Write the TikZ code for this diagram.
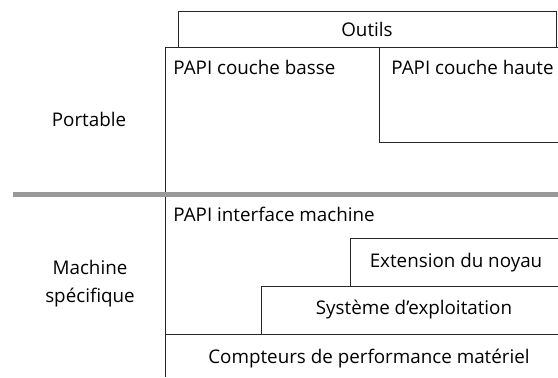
\documentclass[tikz,border=0pt]{standalone}
\usepackage{fontspec}
\setmainfont{Open Sans}
\usetikzlibrary{positioning}
\begin{document}
\begin{tikzpicture}[
    x=0.5pt, y=-0.5pt,
    txt/.style={font=\fontsize{9.4}{14}\selectfont, inner sep=0pt},
    lbl/.style={txt, anchor=west},
    edge/.style={line width=0.5pt, draw=black!85},
    sep/.style={line width=2.5pt, draw=black!40},
  ]
  \useasboundingbox (0,0) rectangle (558,377);
  % layer outlines
  \coordinate (tl) at (165,47);
  \coordinate (tr) at (558,47);
  \draw[edge] (178,47) |- (556,11) -- (556,47);
  \draw[edge] (165,377) -- (tl) -- (tr);
  \draw[edge] (379,47) |- (558,142);
  \draw[edge] (558,238) -| (350,286);
  \draw[edge] (558,286) -| (261,334);
  \draw[edge] (165,334) -- (558,334);
  \draw[sep] (13,194) -- (558,194);
  % texts
  \node[txt] (outils) at (367,29) {Outils};
  \node[lbl] (basse) at (173,67) {PAPI couche basse};
  \node[lbl] (haute) at (391,67) {PAPI couche haute};
  \node[txt] (portable) at (89,119) {Portable};
  \node[lbl] (pim) at (173,214) {PAPI interface machine};
  \node[txt] (noyau) at (456,263) {Extension du noyau};
  \node[txt] (os) at (414,310) {Système d’exploitation};
  \node[txt, align=center] (machine) at (90,284) {Machine\\spécifique};
  \node[txt] (hw) at (369,359) {Compteurs de performance matériel};
\end{tikzpicture}
\end{document}
